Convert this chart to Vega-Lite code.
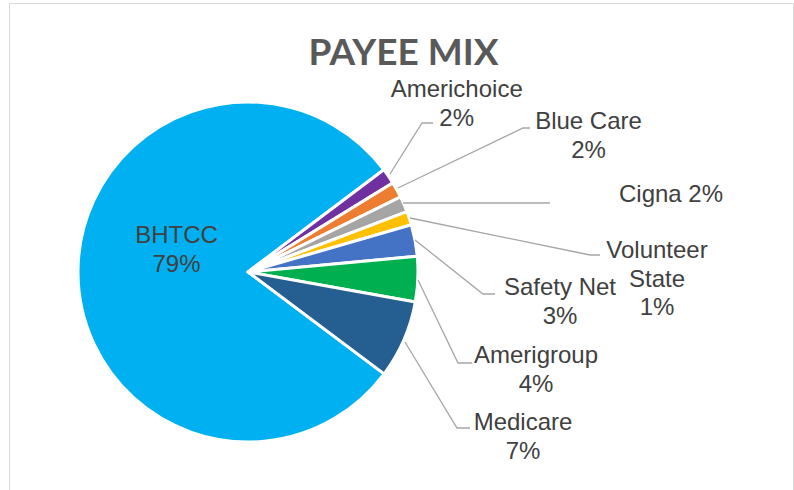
{
  "$schema": "https://vega.github.io/schema/vega-lite/v6.json",
  "width": 784,
  "height": 487,
  "autosize": {"type": "none"},
  "padding": {"left": 9, "top": 3, "right": 1, "bottom": 0},
  "background": "white",
  "config": {
    "view": {"stroke": "#D9D9D9", "strokeWidth": 1},
    "font": "Liberation Sans"
  },
  "title": {
    "text": "PAYEE MIX",
    "frame": "group",
    "anchor": "middle",
    "baseline": "alphabetic",
    "offset": -60,
    "dx": 2.5,
    "dy": 39,
    "font": "Lato",
    "fontSize": 37,
    "fontWeight": "bold",
    "color": "#595959"
  },
  "datasets": {
    "slices": [
      {"idx": 1, "payee": "BHTCC", "value": 79.5, "label": "BHTCC|79%", "tx": -71.5, "ty": 29},
      {"idx": 2, "payee": "Americhoice", "value": 1.5, "label": "Americhoice|2%", "tx": 208.7, "ty": 175},
      {"idx": 3, "payee": "Blue Care", "value": 1.5, "label": "Blue Care|2%", "tx": 340.5, "ty": 143},
      {"idx": 4, "payee": "Cigna", "value": 1.5, "label": "Cigna 2%", "tx": 423, "ty": 70},
      {"idx": 5, "payee": "Volunteer State", "value": 1.3, "label": "Volunteer|State|1%", "tx": 409, "ty": 14},
      {"idx": 6, "payee": "Safety Net", "value": 3.0, "label": "Safety Net|3%", "tx": 312, "ty": -23},
      {"idx": 7, "payee": "Amerigroup", "value": 4.3, "label": "Amerigroup|4%", "tx": 288, "ty": -91},
      {"idx": 8, "payee": "Medicare", "value": 7.4, "label": "Medicare|7%", "tx": 275, "ty": -158}
    ],
    "leaders": [
      {"payee": "Americhoice", "seq": 1, "lx": 142, "ly": 98},
      {"payee": "Americhoice", "seq": 2, "lx": 174, "ly": 149},
      {"payee": "Americhoice", "seq": 3, "lx": 185, "ly": 149},
      {"payee": "Blue Care", "seq": 1, "lx": 150, "ly": 84},
      {"payee": "Blue Care", "seq": 2, "lx": 275, "ly": 144},
      {"payee": "Blue Care", "seq": 3, "lx": 282, "ly": 144},
      {"payee": "Cigna", "seq": 1, "lx": 155, "ly": 69},
      {"payee": "Cigna", "seq": 2, "lx": 302, "ly": 69},
      {"payee": "Volunteer State", "seq": 1, "lx": 162, "ly": 54},
      {"payee": "Volunteer State", "seq": 2, "lx": 342, "ly": 17},
      {"payee": "Volunteer State", "seq": 3, "lx": 352, "ly": 17},
      {"payee": "Safety Net", "seq": 1, "lx": 167, "ly": 32},
      {"payee": "Safety Net", "seq": 2, "lx": 235, "ly": -22},
      {"payee": "Safety Net", "seq": 3, "lx": 247, "ly": -22},
      {"payee": "Amerigroup", "seq": 1, "lx": 170, "ly": -8},
      {"payee": "Amerigroup", "seq": 2, "lx": 210, "ly": -91},
      {"payee": "Amerigroup", "seq": 3, "lx": 224, "ly": -91},
      {"payee": "Medicare", "seq": 1, "lx": 157, "ly": -70},
      {"payee": "Medicare", "seq": 2, "lx": 209, "ly": -156},
      {"payee": "Medicare", "seq": 3, "lx": 222, "ly": -156}
    ]
  },
  "layer": [
    {
      "data": {"name": "slices"},
      "mark": {"type": "arc", "outerRadius": 170, "stroke": "white", "strokeWidth": 3},
      "encoding": {
        "x": {"datum": 0, "type": "quantitative", "scale": {"domain": [-239, 545], "nice": false, "zero": false}, "axis": null},
        "y": {"datum": 0, "type": "quantitative", "scale": {"domain": [-218, 269], "nice": false, "zero": false}, "axis": null},
        "theta": {"field": "value", "type": "quantitative", "stack": true, "scale": {"range": [2.2131, 8.4963]}},
        "order": {"field": "idx", "type": "quantitative"},
        "color": {
          "field": "payee",
          "type": "nominal",
          "legend": null,
          "scale": {
            "domain": ["BHTCC", "Americhoice", "Blue Care", "Cigna", "Volunteer State", "Safety Net", "Amerigroup", "Medicare"],
            "range": ["#00B0F0", "#7030A0", "#ED7D31", "#A5A5A5", "#FFC000", "#4472C4", "#00B050", "#255E91"]
          }
        }
      }
    },
    {
      "data": {"name": "leaders"},
      "mark": {"type": "line", "color": "#A6A6A6", "strokeWidth": 1.3},
      "encoding": {
        "x": {"field": "lx", "type": "quantitative", "scale": {"domain": [-239, 545], "nice": false, "zero": false}, "axis": null},
        "y": {"field": "ly", "type": "quantitative", "scale": {"domain": [-218, 269], "nice": false, "zero": false}, "axis": null},
        "detail": {"field": "payee", "type": "nominal"},
        "order": {"field": "seq", "type": "quantitative"}
      }
    },
    {
      "data": {"name": "slices"},
      "mark": {"type": "text", "fontSize": 24, "color": "#404040", "lineBreak": "|", "lineHeight": 28.5, "baseline": "alphabetic", "align": "center"},
      "encoding": {
        "x": {"field": "tx", "type": "quantitative", "scale": {"domain": [-239, 545], "nice": false, "zero": false}, "axis": null},
        "y": {"field": "ty", "type": "quantitative", "scale": {"domain": [-218, 269], "nice": false, "zero": false}, "axis": null},
        "text": {"field": "label", "type": "nominal"}
      }
    }
  ]
}
